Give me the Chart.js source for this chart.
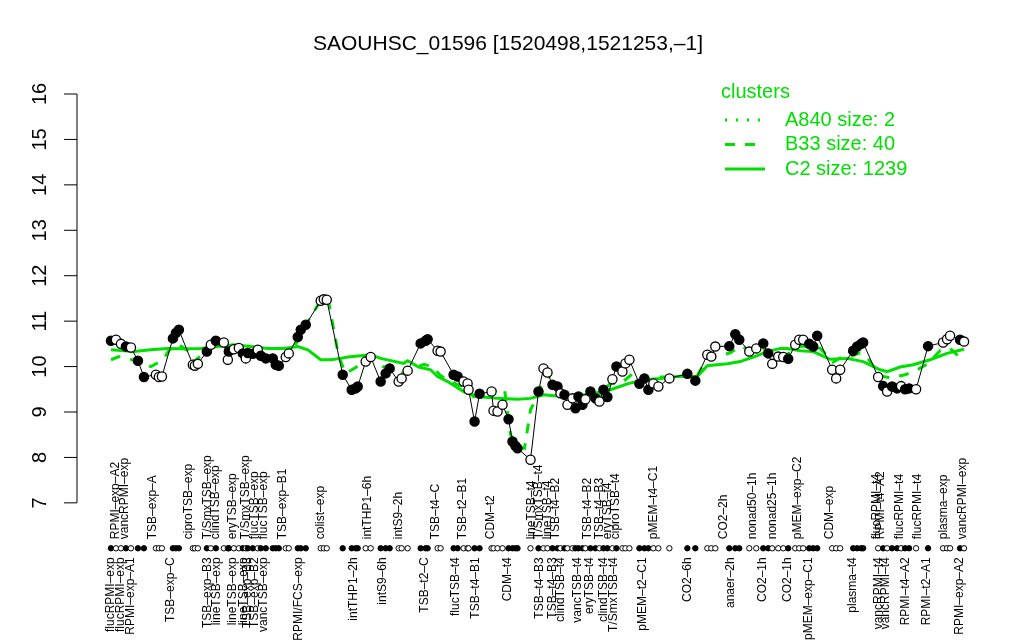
<!DOCTYPE html>
<html>
<head>
<meta charset="utf-8">
<script src="https://cdn.jsdelivr.net/npm/chart.js@4.4.1/dist/chart.umd.min.js"></script>
<style>
  html, body { margin: 0; padding: 0; background: #ffffff; }
  canvas { display: block; }
</style>
</head>
<body>
<canvas id="chart" width="1024" height="640"></canvas>
<script>
// sample positions along the x axis (arbitrary units, in plotting order)
const samplePos = [
  0, 5, 10, 15, 20, 27, 33, 45, 48, 51, 62, 65, 68, 82, 84, 87,
  96, 100, 105, 113, 117, 118, 123, 128, 132, 135, 137, 142, 147, 150, 155, 162,
  165, 168, 175, 178, 187, 190, 195, 210, 213, 216, 232, 241, 245, 247,
  255, 260, 270, 275, 279, 288, 291, 297, 310, 315, 317, 327, 330, 343,
  347, 353, 357, 358, 364, 369, 381, 383, 387, 392, 398, 402, 405, 407,
  420, 428, 433, 437, 442, 447, 450, 454, 457, 462, 465, 468, 472, 475,
  480, 485, 489, 493, 497, 502, 506, 512, 515, 519, 529, 534, 538, 543,
  548, 559, 577, 585, 597, 601, 605, 619, 625, 629, 639, 646, 653, 658,
  662, 668, 673, 678, 685, 689, 693, 699, 703, 707, 722, 726, 730, 743,
  747, 751, 753, 768, 773, 777, 782, 787, 791, 795, 799, 806, 818, 833,
  837, 840, 850, 854
];
const sampleExpr = [
  10.57, 10.59, 10.50, 10.44, 10.42, 10.13, 9.77, 9.82, 9.77, 9.78, 10.62, 10.74, 10.81, 10.04, 10.02, 10.06,
  10.33, 10.48, 10.57, 10.53, 10.15, 10.33, 10.38, 10.41, 10.29, 10.18, 10.30, 10.28, 10.37, 10.24, 10.18, 10.18,
  10.04, 10.02, 10.21, 10.29, 10.65, 10.81, 10.92, 11.45, 11.48, 11.47, 9.82, 9.49, 9.52, 9.56,
  10.11, 10.21, 9.67, 9.85, 9.96, 9.67, 9.74, 9.91, 10.51, 10.57, 10.60, 10.35, 10.33, 9.82,
  9.78, 9.67, 9.63, 9.49, 8.79, 9.40, 9.45, 9.03, 9.01, 9.16, 8.84, 8.35, 8.25, 8.20,
  7.95, 9.45, 9.96, 9.87, 9.60, 9.56, 9.41, 9.38, 9.16, 9.30, 9.08, 9.34, 9.16, 9.28,
  9.45, 9.30, 9.23, 9.49, 9.33, 9.72, 10.00, 9.89, 10.07, 10.15, 9.62, 9.74, 9.49, 9.63,
  9.56, 9.74, 9.84, 9.69, 10.26, 10.22, 10.44, 10.45, 10.71, 10.59, 10.33, 10.40, 10.51, 10.29,
  10.06, 10.22, 10.21, 10.17, 10.48, 10.59, 10.59, 10.50, 10.44, 10.68, 9.93, 9.74, 9.93, 10.35,
  10.44, 10.50, 10.53, 9.77, 9.57, 9.45, 9.56, 9.52, 9.57, 9.50, 9.52, 9.50, 10.45, 10.53,
  10.60, 10.68, 10.59, 10.55
];
// 1 = filled marker, 0 = open marker
const sampleFilled = [
  1, 0, 0, 1, 0, 1, 1, 0, 0, 0, 1, 1, 1, 0, 0, 0,
  1, 0, 1, 0, 0, 1, 0, 0, 1, 0, 1, 1, 0, 1, 1, 1,
  1, 1, 0, 0, 1, 1, 1, 0, 0, 0, 1, 1, 1, 1,
  0, 0, 1, 1, 1, 0, 0, 0, 1, 1, 1, 0, 0, 1,
  1, 0, 0, 0, 1, 1, 0, 0, 0, 0, 1, 1, 1, 1,
  0, 1, 0, 0, 1, 1, 0, 1, 0, 0, 1, 1, 1, 0,
  1, 1, 0, 1, 1, 0, 1, 0, 0, 0, 1, 1, 1, 0,
  0, 0, 1, 1, 0, 0, 0, 1, 1, 1, 0, 0, 1, 1,
  0, 0, 0, 1, 0, 0, 0, 1, 1, 1, 0, 0, 0, 1,
  1, 1, 1, 0, 1, 0, 1, 1, 0, 1, 1, 0, 1, 0,
  0, 0, 1, 0
];

// cluster profiles
const c2Pos = [0, 23, 40, 57, 73, 90, 107, 123, 140, 157, 173, 187, 197, 210, 220, 230, 237, 260, 270, 293,
  297, 308, 320, 327, 337, 353, 367, 387, 407, 420, 433, 447, 460, 483, 500, 517, 533, 550, 567, 587,
  597, 617, 630, 643, 657, 670, 677, 690, 703, 720, 737, 753, 770, 777, 790, 803, 820, 837, 854];
const c2Expr = [10.37, 10.33, 10.37, 10.40, 10.39, 10.40, 10.44, 10.48, 10.44, 10.40, 10.40, 10.44, 10.37, 10.15, 10.15, 10.18, 10.21, 10.26, 10.18, 10.07,
  10.13, 9.99, 9.93, 9.78, 9.67, 9.45, 9.34, 9.30, 9.28, 9.30, 9.38, 9.35, 9.33, 9.41, 9.49, 9.62, 9.71, 9.74, 9.78, 9.78,
  10.02, 10.06, 10.11, 10.21, 10.33, 10.40, 10.40, 10.35, 10.33, 10.16, 10.18, 10.11, 9.93, 9.89, 9.99, 10.04, 10.15, 10.29, 10.38];

const b33Pos = [0, 8, 17, 27, 40, 52, 60, 68, 77, 83, 90, 100, 112, 122, 132, 142, 152, 162, 172, 178,
  188, 200, 212, 218, 228, 235, 245, 255, 262, 272, 282, 292, 302, 313, 322, 330, 337, 347, 355, 363,
  372, 380, 388, 394, 400, 408, 414, 420, 428, 435, 442, 450, 460, 470, 480, 490, 500, 510, 522, 535,
  550, 560, 575, 585, 597, 610, 620, 630, 642, 655, 668, 680, 690, 700, 710, 723, 730, 737, 750, 757,
  770, 780, 795, 807, 817, 830, 840, 847, 853];
const b33Expr = [10.15, 10.22, 10.18, 10.11, 10.00, 10.15, 10.41, 10.48, 10.35, 10.11, 10.24, 10.48, 10.45, 10.38, 10.33, 10.30, 10.28, 10.20, 10.15, 10.20,
  10.62, 11.10, 11.52, 11.42, 10.22, 9.85, 9.98, 10.15, 10.18, 10.00, 9.95, 9.85, 9.95, 10.05, 10.00, 9.80, 9.71, 9.60, 9.55, 9.34,
  9.38, 9.45, 9.49, 9.50, 8.50, 8.22, 8.20, 9.05, 9.40, 9.85, 9.70, 9.45, 9.30, 9.28, 9.35, 9.38, 9.64, 9.62, 9.84, 9.70,
  9.77, 9.77, 9.80, 9.72, 10.20, 10.25, 10.30, 10.45, 10.35, 10.38, 10.22, 10.30, 10.45, 10.45, 10.40, 10.10, 10.19, 10.20, 10.30, 10.20,
  9.80, 9.75, 9.82, 9.93, 10.05, 10.35, 10.40, 10.26, 10.15];

// sample labels above and below the marker strip
const topLabels = ['RPMI–exp–A2', 'vancRPMI–exp', 'TSB–exp–A', 'ciproTSB–exp', 'T/SmxTSB–exp', 'clindTSB–exp',
  'eryTSB–exp', 'T/SmxTSB–exp', 'flucTSB–exp', 'flucTSB–exp', 'TSB–exp–B1', 'colist–exp', 'intTHP1–6h',
  'intS9–2h', 'TSB–t4–C', 'TSB–t2–B1', 'CDM–t2', 'lineTSB–t4', 'T/SmxTSB–t4', 'lineTSB–t4', 'TSB–t4–B2',
  'TSB–t4–B2', 'TSB–t4–B3', 'eryTSB–t4', 'ciproTSB–t4', 'pMEM–t4–C1', 'CO2–2h', 'nonad50–1h', 'nonad25–1h',
  'pMEM–exp–C2', 'CDM–exp', 'flucRPMI–t4', 'RPMI–t4–A2', 'flucRPMI–t4', 'flucRPMI–t4', 'plasma–exp', 'vancRPMI–exp'];
const topLabelPos = [5, 14, 42, 78, 97, 105, 122, 135, 144, 153, 172, 210, 257, 288, 325, 352, 380, 421, 428, 437,
  445, 477, 489, 497, 505, 543, 613, 642, 662, 687, 720, 767, 771, 790, 808, 834, 853];
const bottomLabels = ['flucRPMI–exp', 'flucRPMI–exp', 'RPMI–exp–A1', 'TSB–exp–C', 'TSB–exp–B3', 'lineTSB–exp',
  'lineTSB–exp', 'lineTSB–exp', 'TSB–exp–B3', 'TSB–exp–B2', 'vancTSB–exp', 'RPMI/FCS–exp', 'intTHP1–2h',
  'intS9–6h', 'TSB–t2–C', 'flucTSB–t4', 'TSB–t4–B1', 'CDM–t4', 'TSB–t4–B3', 'TSB–t4–B3', 'clindTSB–t4',
  'vancTSB–t4', 'eryTSB–t4', 'clindTSB–t4', 'T/SmxTSB–t4', 'pMEM–t2–C1', 'CO2–6h', 'anaer–2h', 'CO2–1h',
  'CO2–1h', 'pMEM–exp–C1', 'plasma–t4', 'vancRPMI–t4', 'vancRPMI–t4', 'RPMI–t4–A2', 'RPMI–t2–A1', 'RPMI–exp–A2'];
const bottomLabelPos = [0, 10, 20, 60, 97, 106, 122, 133, 137, 144, 153, 188, 243, 272, 314, 345, 365, 397, 429, 442,
  450, 467, 479, 493, 503, 532, 577, 620, 652, 677, 698, 743, 769, 776, 796, 817, 850];

const yTicks = [7, 8, 9, 10, 11, 12, 13, 14, 15, 16];
const stripLevel = 6;

const clusterNames = ['A840 size: 2', 'B33 size: 40', 'C2 size: 1239'];
const clusterDash = [[2, 9], [10, 10], []];

const titleText = 'SAOUHSC_01596 [1520498,1521253,–1]';
const GREEN = '#00e000';
const FONT = '"Liberation Sans", Arial, Helvetica, sans-serif';

const toPoints = (xs, ys) => xs.map((x, i) => ({ x, y: ys[i] }));
const markerFill = sampleFilled.map(f => (f ? '#000000' : '#ffffff'));

// R-style decorations: left axis, title, strip labels, cluster legend
const rDecor = {
    id: 'rDecor',
    afterDraw(chart) {
        const { ctx, chartArea, scales } = chart;
        const x = scales.x;
        const y = scales.y;
        ctx.save();

        // y axis (only over the 7..16 range)
        ctx.strokeStyle = '#000000';
        ctx.lineWidth = 1;
        ctx.beginPath();
        ctx.moveTo(chartArea.left, y.getPixelForValue(yTicks[0]));
        ctx.lineTo(chartArea.left, y.getPixelForValue(yTicks[yTicks.length - 1]));
        yTicks.forEach(t => {
            const py = y.getPixelForValue(t);
            ctx.moveTo(chartArea.left, py);
            ctx.lineTo(chartArea.left - 13, py);
        });
        ctx.stroke();

        ctx.fillStyle = '#000000';
        ctx.font = '20px ' + FONT;
        ctx.textAlign = 'center';
        ctx.textBaseline = 'middle';
        yTicks.forEach(t => {
            ctx.save();
            ctx.translate(chartArea.left - 37, y.getPixelForValue(t));
            ctx.rotate(-Math.PI / 2);
            ctx.fillText(String(t), 0, 0);
            ctx.restore();
        });

        // title
        ctx.font = '21px ' + FONT;
        ctx.fillText(titleText, 508, 44);

        // strip labels
        const stripY = y.getPixelForValue(stripLevel);
        ctx.font = '12px ' + FONT;
        ctx.textBaseline = 'middle';
        topLabels.forEach((lab, i) => {
            ctx.save();
            ctx.translate(x.getPixelForValue(topLabelPos[i]), stripY - 9);
            ctx.rotate(-Math.PI / 2);
            ctx.textAlign = 'left';
            ctx.fillText(lab, 0, 0);
            ctx.restore();
        });
        bottomLabels.forEach((lab, i) => {
            ctx.save();
            ctx.translate(x.getPixelForValue(bottomLabelPos[i]), stripY + 9);
            ctx.rotate(-Math.PI / 2);
            ctx.textAlign = 'right';
            ctx.fillText(lab, 0, 0);
            ctx.restore();
        });

        // legend
        ctx.fillStyle = GREEN;
        ctx.strokeStyle = GREEN;
        ctx.font = '20px ' + FONT;
        ctx.textAlign = 'left';
        ctx.fillText('clusters', 721, 92);
        clusterNames.forEach((name, i) => {
            const ly = 120 + i * 24.5;
            ctx.lineWidth = 3;
            ctx.setLineDash(clusterDash[i]);
            ctx.beginPath();
            ctx.moveTo(725, ly);
            ctx.lineTo(765, ly);
            ctx.stroke();
            ctx.setLineDash([]);
            ctx.fillText(name, 785, ly);
        });

        ctx.restore();
    }
};

new Chart(document.getElementById('chart').getContext('2d'), {
    type: 'scatter',
    data: {
        datasets: [
            {
                label: 'samples',
                data: toPoints(samplePos, sampleExpr),
                showLine: true,
                borderColor: '#000000',
                borderWidth: 1,
                pointRadius: 4.6,
                pointBorderWidth: 1.3,
                pointBorderColor: '#000000',
                pointBackgroundColor: markerFill,
                tension: 0,
                order: 1
            },
            {
                label: 'strip',
                data: samplePos.map(x => ({ x, y: stripLevel })),
                showLine: false,
                pointRadius: 2.7,
                pointBorderWidth: 1,
                pointBorderColor: '#000000',
                pointBackgroundColor: markerFill,
                order: 1
            },
            {
                label: 'C2 size: 1239',
                data: toPoints(c2Pos, c2Expr),
                showLine: true,
                borderColor: GREEN,
                borderWidth: 3,
                pointRadius: 0,
                tension: 0,
                order: 2
            },
            {
                label: 'B33 size: 40',
                data: toPoints(b33Pos, b33Expr),
                showLine: true,
                borderColor: GREEN,
                borderWidth: 3,
                borderDash: [10, 10],
                pointRadius: 0,
                tension: 0,
                order: 2
            }
        ]
    },
    options: {
        responsive: false,
        animation: false,
        layout: { padding: { left: 77, right: 26, top: 94, bottom: 69 } },
        scales: {
            x: { type: 'linear', min: -34, max: 888, display: false },
            y: { type: 'linear', min: 5.5, max: 16, display: false }
        },
        plugins: {
            legend: { display: false },
            tooltip: { enabled: false }
        }
    },
    plugins: [rDecor]
});
</script>
</body>
</html>
